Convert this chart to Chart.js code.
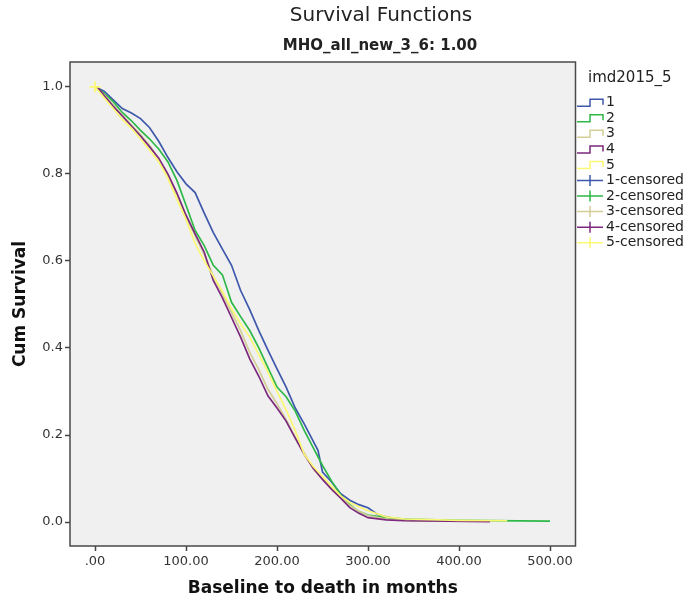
<!DOCTYPE html>
<html>
<head>
<meta charset="utf-8">
<script src="https://cdn.jsdelivr.net/npm/chart.js@4.4.1/dist/chart.umd.min.js"></script>
<style>
  html, body { margin: 0; padding: 0; background: #fff; }
  #wrap { width: 686px; height: 602px; }
</style>
</head>
<body>
<div id="wrap"><canvas id="chart" width="686" height="602"></canvas></div>
<script>
// 各组生存曲线
const groups = ['1', '2', '3', '4', '5'];
const groupColors = ['#3E58AC', '#2EB848', '#D3CE97', '#7C287D', '#FBF873'];

const g1Months = [0, 5, 10, 20, 30, 40, 50, 60, 70, 80, 90, 100, 110, 120, 130, 140, 150, 160, 170, 180, 190, 200, 210, 220, 230, 240, 245, 250, 260, 270, 280, 290, 300, 310, 320, 330, 350];
const g1Surv = [1.0, 0.995, 0.99, 0.97, 0.95, 0.94, 0.927, 0.906, 0.875, 0.838, 0.805, 0.777, 0.757, 0.71, 0.665, 0.627, 0.59, 0.532, 0.488, 0.44, 0.395, 0.352, 0.31, 0.262, 0.225, 0.185, 0.165, 0.115, 0.092, 0.065, 0.05, 0.04, 0.033, 0.018, 0.012, 0.008, 0.003];

const g2Months = [0, 5, 10, 20, 30, 40, 50, 60, 70, 80, 90, 100, 110, 120, 130, 140, 150, 160, 170, 180, 190, 200, 210, 220, 230, 240, 250, 260, 270, 280, 290, 300, 320, 340, 400, 500];
const g2Surv = [1.0, 0.993, 0.985, 0.966, 0.941, 0.922, 0.9, 0.88, 0.857, 0.828, 0.785, 0.728, 0.67, 0.635, 0.59, 0.568, 0.505, 0.472, 0.44, 0.40, 0.355, 0.31, 0.288, 0.255, 0.21, 0.17, 0.13, 0.094, 0.062, 0.04, 0.024, 0.016, 0.01, 0.007, 0.004, 0.002];

const g3Months = [0, 5, 10, 20, 30, 40, 50, 60, 70, 80, 90, 100, 110, 120, 130, 140, 150, 160, 170, 180, 190, 200, 210, 220, 230, 240, 250, 260, 270, 280, 290, 300, 320, 340, 370];
const g3Surv = [1.0, 0.99, 0.982, 0.958, 0.935, 0.912, 0.89, 0.865, 0.835, 0.795, 0.752, 0.702, 0.658, 0.615, 0.565, 0.525, 0.482, 0.44, 0.39, 0.35, 0.305, 0.272, 0.235, 0.195, 0.158, 0.122, 0.098, 0.078, 0.058, 0.038, 0.025, 0.015, 0.007, 0.004, 0.002];

const g4Months = [0, 5, 10, 20, 30, 40, 50, 60, 70, 80, 90, 100, 110, 120, 130, 140, 150, 160, 170, 180, 190, 200, 210, 220, 230, 240, 250, 260, 270, 280, 290, 300, 320, 340, 434];
const g4Surv = [1.0, 0.993, 0.98, 0.955, 0.933, 0.91, 0.887, 0.862, 0.836, 0.8, 0.756, 0.705, 0.662, 0.62, 0.555, 0.515, 0.47, 0.425, 0.375, 0.335, 0.29, 0.262, 0.232, 0.193, 0.155, 0.123, 0.098, 0.075, 0.055, 0.033, 0.02, 0.01, 0.005, 0.003, 0.001];

const g5Months = [0, 10, 20, 30, 40, 50, 60, 70, 80, 90, 100, 110, 120, 130, 140, 150, 160, 170, 180, 190, 200, 210, 220, 230, 240, 250, 260, 270, 280, 290, 300, 320, 340, 400, 453];
const g5Surv = [1.0, 0.975, 0.95, 0.925, 0.905, 0.88, 0.855, 0.828, 0.79, 0.742, 0.695, 0.64, 0.6, 0.565, 0.53, 0.49, 0.455, 0.425, 0.385, 0.345, 0.3, 0.258, 0.21, 0.155, 0.127, 0.105, 0.082, 0.06, 0.045, 0.035, 0.026, 0.012, 0.007, 0.004, 0.003];

// 删失点
const censorMonths = [0];
const censorSurv = [1.0];

// 坐标轴刻度
const xTicks = [0, 100, 200, 300, 400, 500];
const xTickLabels = ['.00', '100.00', '200.00', '300.00', '400.00', '500.00'];
const yTicks = [0, 0.2, 0.4, 0.6, 0.8, 1.0];
const yTickLabels = ['0.0', '0.2', '0.4', '0.6', '0.8', '1.0'];

const allMonths = [g1Months, g2Months, g3Months, g4Months, g5Months];
const allSurv = [g1Surv, g2Surv, g3Surv, g4Surv, g5Surv];

const FONT = '"DejaVu Sans", Verdana, sans-serif';

// 背景、边框、标题和图例
const decorPlugin = {
  id: 'decor',
  beforeDraw(chart) {
    const { ctx, chartArea: a } = chart;
    ctx.save();
    ctx.fillStyle = '#F0F0F0';
    ctx.fillRect(a.left, a.top, a.right - a.left, a.bottom - a.top);
    ctx.restore();
  },
  afterDraw(chart) {
    const { ctx, chartArea: a } = chart;
    ctx.save();
    // 边框
    ctx.strokeStyle = '#4a4a4a';
    ctx.lineWidth = 1.5;
    ctx.strokeRect(a.left, a.top, a.right - a.left, a.bottom - a.top);

    // 标题
    ctx.fillStyle = '#222';
    ctx.textAlign = 'center';
    ctx.textBaseline = 'middle';
    ctx.font = '20px ' + FONT;
    ctx.fillText('Survival Functions', 381, 16);
    ctx.font = 'bold 15px ' + FONT;
    ctx.fillText('MHO_all_new_3_6: 1.00', 380, 46);

    // 图例
    ctx.textAlign = 'left';
    ctx.font = '15px ' + FONT;
    ctx.fillText('imd2015_5', 588, 78);
    ctx.font = '14px ' + FONT;
    const top = 102.7;
    const rowH = 15.56;
    ctx.lineWidth = 1.5;
    groups.forEach((g, i) => {
      const y = top + i * rowH;
      ctx.strokeStyle = groupColors[i];
      ctx.beginPath();
      ctx.moveTo(577, y + 3.5);
      ctx.lineTo(590, y + 3.5);
      ctx.lineTo(590, y - 3.5);
      ctx.lineTo(603, y - 3.5);
      ctx.lineTo(603, y + 2);
      ctx.stroke();
      ctx.fillStyle = '#222';
      ctx.fillText(g, 606, y);
    });
    groups.forEach((g, i) => {
      const y = top + (5 + i) * rowH;
      ctx.strokeStyle = groupColors[i];
      ctx.beginPath();
      ctx.moveTo(577, y);
      ctx.lineTo(603, y);
      ctx.moveTo(590, y - 5.5);
      ctx.lineTo(590, y + 5.5);
      ctx.stroke();
      ctx.fillStyle = '#222';
      ctx.fillText(g + '-censored', 606, y);
    });
    ctx.restore();
  }
};

const datasets = groups.map((g, i) => ({
  label: g,
  data: allMonths[i].map((t, k) => ({ x: t, y: allSurv[i][k] })),
  borderColor: groupColors[i],
  backgroundColor: groupColors[i],
  borderWidth: 1.7,
  pointRadius: 0,
  tension: 0,
  fill: false,
  order: 5 - i
}));

datasets.push({
  label: '5-censored',
  type: 'scatter',
  data: censorMonths.map((t, k) => ({ x: t, y: censorSurv[k] })),
  borderColor: groupColors[4],
  backgroundColor: groupColors[4],
  pointStyle: 'cross',
  pointRadius: 5.5,
  borderWidth: 1.8,
  order: 0
});

new Chart(document.getElementById('chart'), {
  type: 'line',
  data: { datasets },
  plugins: [decorPlugin],
  options: {
    responsive: false,
    animation: false,
    layout: { padding: { left: 0, right: 110.5, top: 62, bottom: 0 } },
    plugins: {
      legend: { display: false },
      tooltip: { enabled: false },
      title: { display: false }
    },
    scales: {
      x: {
        type: 'linear',
        min: -27.5,
        max: 528,
        afterBuildTicks: (scale) => { scale.ticks = xTicks.map(v => ({ value: v })); },
        afterFit: (scale) => { scale.height = 56; },
        border: { display: false },
        grid: { drawOnChartArea: false, drawTicks: true, tickLength: 5, tickColor: '#444', tickWidth: 1.5 },
        ticks: {
          color: '#333',
          font: { family: FONT, size: 13 },
          padding: 3,
          maxRotation: 0,
          callback: (value, index) => xTickLabels[index]
        },
        title: {
          display: true,
          text: 'Baseline to death in months',
          color: '#111',
          font: { family: FONT, size: 17, weight: 'bold' },
          padding: { top: 0, bottom: 3 }
        }
      },
      y: {
        type: 'linear',
        min: -0.055,
        max: 1.057,
        afterBuildTicks: (scale) => { scale.ticks = yTicks.map(v => ({ value: v })); },
        afterFit: (scale) => { scale.width = 70; },
        border: { display: false },
        grid: { drawOnChartArea: false, drawTicks: true, tickLength: 5, tickColor: '#444', tickWidth: 1.5 },
        ticks: {
          color: '#333',
          font: { family: FONT, size: 13 },
          padding: 2,
          callback: (value, index) => yTickLabels[index]
        },
        title: {
          display: true,
          text: 'Cum Survival',
          color: '#111',
          font: { family: FONT, size: 17, weight: 'bold' },
          padding: { top: 10, bottom: 0 }
        }
      }
    }
  }
});
</script>
</body>
</html>
